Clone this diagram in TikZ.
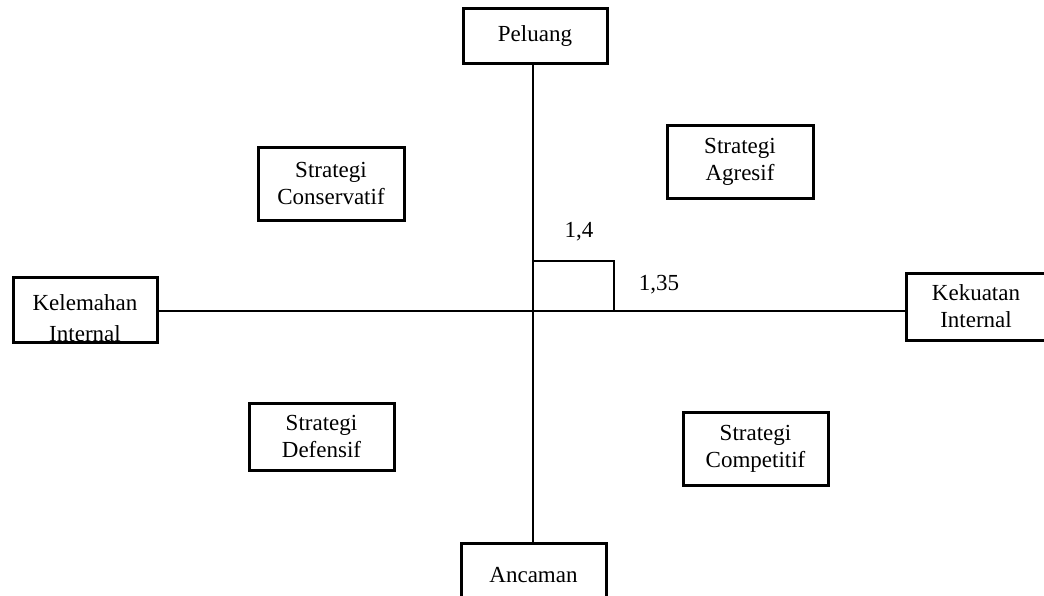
\documentclass[tikz,border=0pt]{standalone}
\usepackage{fontspec}
\setmainfont{Liberation Serif}
\begin{document}
\begin{tikzpicture}[x=1pt,y=-1pt,
  box/.style={draw=black, line width=3pt, fill=white, align=center, inner sep=0pt,
    font=\fontsize{23}{27}\selectfont},
  axis/.style={draw=black, line width=1.3pt},
  val/.style={font=\fontsize{23}{27}\selectfont, inner sep=0pt}]
\useasboundingbox (0,0) rectangle (1044,595);
\coordinate (O) at (533,311);
\coordinate (C) at (614,261);
% axes
\node[box, minimum width=144pt, minimum height=55pt] (peluang) at (535,35.5) {Peluang};
\node[box, minimum width=145pt, minimum height=65pt] (ancaman) at (533.5,575.5) {Ancaman};
\node[box, minimum width=144pt, minimum height=65pt] (kelemahan) at (85,309.5) {};
\node[box, minimum width=140pt, minimum height=67pt] (kekuatan) at (976,306.5) {Kekuatan\\Internal};
\draw[axis] (peluang.south -| O) -- (ancaman.north -| O);
\draw[axis] (kelemahan.east |- O) -- (kekuatan.west |- O);
% clipped text of Kelemahan Internal
\begin{scope}
  \clip ([xshift=1.5pt,yshift=1.5pt]kelemahan.south west) rectangle ([xshift=-1.5pt,yshift=-1.5pt]kelemahan.north east);
  \node[val, align=center, font=\fontsize{23}{31}\selectfont, anchor=base] (kelText) at (85,341) {Kelemahan\\Internal};
\end{scope}
% small rectangle
\draw[line width=1.3pt] (O) |- (C) -- (C |- O);
\node[val] (v14) at (579,232) {1,4};
\node[val] (v135) at (659,285) {1,35};
% quadrants
\node[box, minimum width=146pt, minimum height=73pt] (cons) at (331,183.5) {Strategi\\Conservatif};
\node[box, minimum width=146pt, minimum height=73pt] (agr) at (740,161.5) {Strategi\\Agresif};
\node[box, minimum width=145pt, minimum height=67pt] (def) at (321.5,436.5) {Strategi\\Defensif};
\node[box, minimum width=145pt, minimum height=73pt] (comp) at (755.5,448.5) {Strategi\\Competitif};
\end{tikzpicture}
\end{document}
